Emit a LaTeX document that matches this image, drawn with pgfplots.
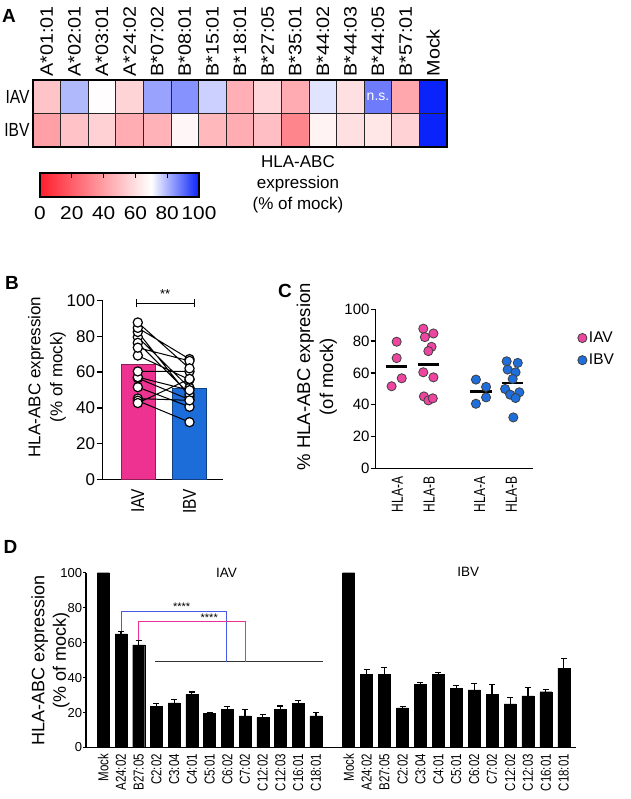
\documentclass[border=0pt]{standalone}
\usepackage{pgfplots}
\pgfplotsset{compat=1.18}
\usepackage{pgfplotstable}
\usepackage{fontspec}
\setmainfont{Liberation Sans}
\newfontfamily\fwide{Liberation Sans}[FakeStretch=1.1]
\newfontfamily\fwider{Liberation Sans}[FakeStretch=1.12]
\newfontfamily\frow{Liberation Sans}[FakeStretch=0.82]
\newfontfamily\fbx{Liberation Sans}[FakeStretch=0.83]
\newfontfamily\fcx{Liberation Sans}[FakeStretch=0.75]
\newfontfamily\fdx{Liberation Sans}[FakeStretch=0.8]
\definecolor{iavpink}{RGB}{238,50,145}
\definecolor{ibvblue}{RGB}{28,108,218}
\definecolor{ptpink}{RGB}{238,70,160}
\definecolor{ptblue}{RGB}{30,110,220}
\definecolor{sigblue}{RGB}{70,90,230}
\definecolor{sigpink}{RGB}{230,50,150}
\pgfplotsset{colormap={hla}{rgb255(0pt)=(255,30,45) rgb255(70pt)=(255,255,255) rgb255(100pt)=(10,35,250)}}
\pgfplotsset{gp/.style={scale only axis, axis x line*=bottom, axis y line*=left,
  axis line style={line width=1.3pt, black}, tick align=outside, major tick length=5pt,
  ytick style={line width=1.3pt, black}, xtick style={draw=none},
  /pgf/number format/assume math mode=true, clip=false,
  ymin=0, ymax=100, ytick={0,20,...,100}}}

% heat map: x y value (% of mock)
\pgfplotstableread{
x y c
0 0 40.6
1 0 51.2
2 0 55.8
3 0 44.6
4 0 46.3
5 0 67.3
6 0 47.8
7 0 44.2
8 0 49.9
9 0 32.0
10 0 66.3
11 0 60.4
12 0 62.1
13 0 56.2
14 0 100
0 1 51.6
1 1 79.6
2 1 69.3
3 1 56.6
4 1 82.5
5 1 84.8
6 1 76.4
7 1 45.2
8 1 57.2
9 1 44.0
10 1 73.7
11 1 60.4
12 1 87.8
13 1 42.7
14 1 100
}\heat

% panel B paired values
\pgfplotstableread{
x y
1 51.6
2 40.6
1 nan
1 79.6
2 51.2
1 nan
1 69.3
2 55.8
1 nan
1 56.6
2 44.6
1 nan
1 82.5
2 46.3
1 nan
1 84.8
2 67.3
1 nan
1 76.4
2 47.8
1 nan
1 45.2
2 44.2
1 nan
1 57.2
2 49.9
1 nan
1 44.0
2 32.0
1 nan
1 73.7
2 66.3
1 nan
1 60.4
2 60.4
1 nan
1 87.8
2 62.1
1 nan
1 42.7
2 56.2
}\pairs

\pgfplotstableread{
x y
0.98 79.6
0.98 69.3
1.14 56.6
0.82 51.6
1.82 87.8
2.14 84.8
1.87 82.5
2.08 76.4
1.98 73.7
1.82 60.4
2.14 57.2
1.84 45.2
1.98 42.7
2.12 44.0
}\ciav

\pgfplotstableread{
x y
3.48 55.8
3.80 51.2
3.80 44.6
3.48 40.6
4.45 67.3
4.80 66.3
4.48 62.1
4.73 60.4
4.64 56.2
4.40 49.9
4.85 47.8
4.56 46.3
4.73 44.2
4.66 32.0
}\cibv

\pgfplotstableread{
x y e
1 65.0 1.3
2 58.7 2.4
3 23.7 1.5
4 25.6 1.9
5 30.3 1.4
6 19.5 0.6
7 21.9 1.4
8 18.1 3.7
9 17.2 1.7
10 21.8 1.9
11 25.2 1.5
12 18.1 1.7
14.86 41.8 3.0
15.87 41.8 4.0
16.89 22.7 0.6
17.90 36.1 1.1
18.91 41.8 0.9
19.92 33.8 1.7
20.93 33.0 3.6
21.94 30.3 5.6
22.96 25.0 3.6
23.97 29.6 4.6
24.98 31.9 1.3
25.99 45.4 5.6
}\dbars

\begin{document}
\begin{tikzpicture}
\path[use as bounding box] (0pt,0pt) rectangle (630pt,-799pt);

% ---------------- A: heat map
\begin{axis}[at={(33pt,-147pt)}, anchor=south west, scale only axis,
  width=414pt, height=67pt,
  xmin=-0.5, xmax=14.5, ymin=-0.5, ymax=1.5,
  xtick={0,...,14},
  xticklabels={A*01:01,A*02:01,A*03:01,A*24:02,B*07:02,B*08:01,B*15:01,B*18:01,B*27:05,B*35:01,B*44:02,B*44:03,B*44:05,B*57:01,Mock},
  xticklabel pos=right,
  xticklabel style={rotate=90, anchor=west, font=\fwide\fontsize{18}{20}\selectfont},
  ytick={0,1}, yticklabels={IBV,IAV},
  yticklabel style={font=\frow\fontsize{19}{21}\selectfont},
  major tick length=0pt, minor tick length=0pt,
  minor xtick={0.5,1.5,...,13.5}, minor ytick={0.5},
  xminorgrids, yminorgrids, minor grid style={black!85, line width=0.7pt},
  axis on top, axis line style={line width=1.6pt, black},
  colormap name=hla, point meta min=0, point meta max=100, clip=false]
\addplot[matrix plot*, mesh/cols=15, mesh/rows=2, point meta=explicit] table[meta=c]{\heat};
\node[text=white, font=\fontsize{14}{16}\selectfont] at (axis cs:12,1) {n.s.};
\end{axis}

% colour bar
\begin{axis}[at={(40pt,-197pt)}, anchor=south west, scale only axis,
  width=159pt, height=24pt, xmin=0, xmax=100, ymin=0, ymax=1,
  xtick={0,20,...,100}, ytick=\empty, xtick pos=right, xticklabel pos=left,
  tick align=inside, major tick length=5pt, tick style={line width=1.2pt, black},
  xticklabel style={font=\fwider\fontsize{18.6}{21}\selectfont, yshift=-6pt},
  /pgf/number format/assume math mode=true,
  axis on top, axis line style={line width=1.6pt, black},
  colormap name=hla, point meta min=0, point meta max=100, clip=false]
\addplot[patch, patch type=rectangle, shader=interp, point meta=x]
  coordinates {(0,0) (70,0) (70,1) (0,1) (70,0) (100,0) (100,1) (70,1)};
\end{axis}
\node[align=center, font=\fontsize{17}{21}\selectfont] at (298pt,-184pt) {HLA-ABC\\expression\\(\% of mock)};

% ---------------- B
\begin{axis}[gp, at={(102.7pt,-479.3pt)}, anchor=south west, width=120pt, height=178.6pt,
  major tick length=6pt,
  xmin=0.321, xmax=2.642, xtick={1,2}, xticklabels={IAV,IBV},
  xticklabel style={rotate=90, anchor=east, font=\fbx\fontsize{18.6}{20}\selectfont},
  yticklabel style={font=\fontsize{17}{20}\selectfont, inner sep=1.5pt},
  ylabel={HLA-ABC expression\\(\% of mock)},
  ylabel style={align=center, font=\fontsize{17}{22}\selectfont, at={(axis description cs:-0.465,0.573)}, anchor=center}]
\addplot[ybar, bar width=34pt, bar shift=0pt, fill=iavpink, draw=iavpink!60!black, line width=0.6pt] coordinates {(1,64.2)};
\addplot[ybar, bar width=34pt, bar shift=0pt, fill=ibvblue, draw=ibvblue!60!black, line width=0.6pt] coordinates {(2,50.9)};
\addplot[black, line width=1pt, no markers, unbounded coords=jump] table{\pairs};
\addplot[only marks, mark=*, mark size=4.6pt, mark options={fill=white, draw=black, line width=1.2pt}, unbounded coords=jump] table{\pairs};
\addplot[black, line width=1.3pt] coordinates {(0.979,96.3) (0.979,100.8)};
\addplot[black, line width=1.3pt] coordinates {(0.979,98.5) (2.093,98.5)};
\addplot[black, line width=1.3pt] coordinates {(2.093,96.3) (2.093,100.8)};
\node[font=\fontsize{13}{14}\selectfont] at (axis cs:1.53,103.5) {**};
\end{axis}

% ---------------- C
\begin{axis}[gp, at={(375.7pt,-468.3pt)}, anchor=south west, width=157.6pt, height=159pt,
  xmin=0.319, xmax=5.29, xtick={1,2,3.6,4.6}, xticklabels={HLA-A,HLA-B,HLA-A,HLA-B},
  xticklabel style={rotate=90, anchor=east, font=\fcx\fontsize{16}{18}\selectfont},
  yticklabel style={font=\fontsize{15}{18}\selectfont, inner sep=1pt},
  ylabel={\% HLA-ABC expresion\\(of mock)},
  ylabel style={align=center, font=\fontsize{18.5}{23}\selectfont, at={(axis description cs:-0.374,0.576)}, anchor=center},
  legend style={at={(axis description cs:1.262,0.884)}, anchor=north west, draw=none, fill=none,
    font=\fontsize{15.5}{18}\selectfont, row sep=6pt},
  legend cell align=left]
\addplot[only marks, mark=*, mark size=4.6pt, mark options={fill=ptpink, draw=black!75, line width=0.8pt}] table{\ciav};
\addlegendentry{IAV}
\addplot[only marks, mark=*, mark size=4.6pt, mark options={fill=ptblue, draw=black!75, line width=0.8pt}] table{\cibv};
\addlegendentry{IBV}
\addplot[black, line width=2.6pt, forget plot] coordinates {(0.64,64.2) (1.32,64.2)};
\addplot[black, line width=2.6pt, forget plot] coordinates {(1.64,65.3) (2.32,65.3)};
\addplot[black, line width=2.6pt, forget plot] coordinates {(3.29,48.2) (3.98,48.2)};
\addplot[black, line width=2.6pt, forget plot] coordinates {(4.29,53.7) (4.95,53.7)};
\end{axis}

% ---------------- D
\begin{axis}[gp, at={(86pt,-747.5pt)}, anchor=south west, width=490pt, height=174.8pt,
  major tick length=3pt,
  xmin=-0.976, xmax=26.68,
  xtick={0,1,2,3,4,5,6,7,8,9,10,11,12,13.85,14.86,15.87,16.89,17.90,18.91,19.92,20.93,21.94,22.96,23.97,24.98,25.99},
  xticklabels={Mock,A24:02,B27:05,C2:02,C3:04,C4:01,C5:01,C6:02,C7:02,C12:02,C12:03,C16:01,C18:01,
               Mock,A24:02,B27:05,C2:02,C3:04,C4:01,C5:01,C6:02,C7:02,C12:02,C12:03,C16:01,C18:01},
  xticklabel style={rotate=90, anchor=east, font=\fdx\fontsize{14.4}{16}\selectfont},
  yticklabel style={font=\fontsize{13}{15}\selectfont, inner sep=0.8pt},
  ylabel={HLA-ABC expression\\(\% of mock)},
  ylabel style={align=center, font=\fontsize{18}{21.5}\selectfont, at={(axis description cs:-0.0725,0.5)}, anchor=center}]
\addplot[ybar, bar width=12pt, bar shift=0pt, fill=black, draw=black] coordinates {(0,100) (13.85,100)};
\addplot[ybar, bar width=12pt, bar shift=0pt, fill=black, draw=black,
  error bars/.cd, y dir=plus, y explicit, error bar style={line width=1.2pt, black},
  error mark options={rotate=90, mark size=3pt, line width=1.2pt, black}]
  table[x=x, y=y, y error=e]{\dbars};
\addplot[black!80, line width=0.9pt] coordinates {(2.92,49.1) (12.38,49.1)};
\addplot[sigblue, line width=1pt] coordinates {(1,66.5) (1,77.7) (6.96,77.7) (6.96,49.1)};
\addplot[sigpink, line width=1pt] coordinates {(2.01,61.3) (2.01,72) (8,72) (8,49.1)};
\node[font=\fontsize{11}{12}\selectfont] at (axis cs:4.42,80.3) {****};
\node[font=\fontsize{11}{12}\selectfont] at (axis cs:5.98,74.3) {****};
\node[font=\fontsize{13.5}{15}\selectfont] at (axis cs:6.96,99.7) {IAV};
\node[font=\fontsize{13.5}{15}\selectfont] at (axis cs:20.6,100.6) {IBV};
\end{axis}

% panel letters
\node[font=\bfseries\fontsize{19}{22}\selectfont] at (9pt,-16pt) {A};
\node[font=\bfseries\fontsize{19}{22}\selectfont] at (12pt,-282.5pt) {B};
\node[font=\bfseries\fontsize{19}{22}\selectfont] at (285pt,-290.5pt) {C};
\node[font=\bfseries\fontsize{19}{22}\selectfont] at (10.5pt,-546.5pt) {D};
\end{tikzpicture}
\end{document}
